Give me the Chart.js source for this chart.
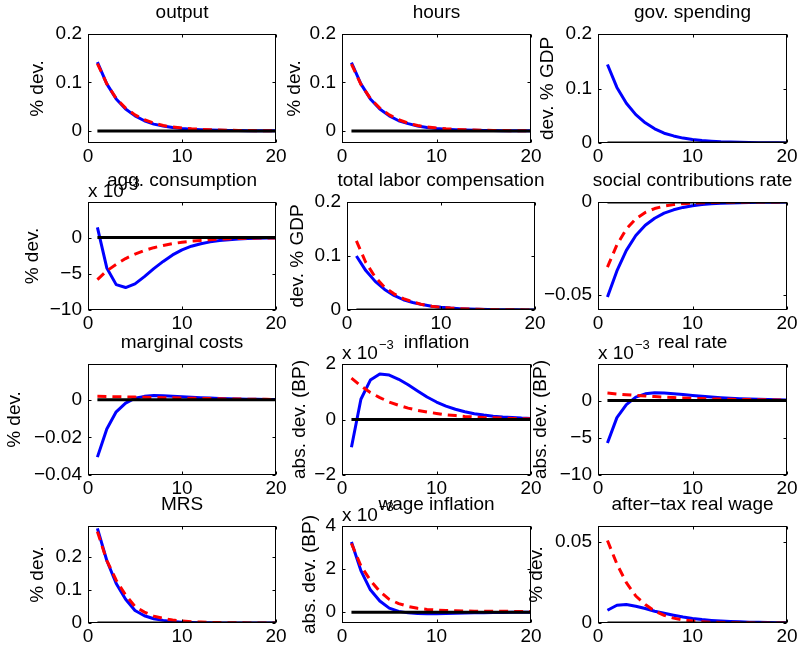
<!DOCTYPE html>
<html><head><meta charset="utf-8">
<script src="https://cdn.jsdelivr.net/npm/chart.js@4.4.0/dist/chart.umd.min.js"></script>
<style>
body{margin:0;background:#fff;width:800px;height:653px;overflow:hidden;position:relative}
canvas{position:absolute}
</style></head><body>
<script>
// ---------- data ----------
const steps = [1,2,3,4,5,6,7,8,9,10,11,12,13,14,15,16,17,18,19,20];
const zero  = [0,0,0,0,0,0,0,0,0,0,0,0,0,0,0,0,0,0,0,0];
const xTickVals = [0,10,20];

const outputBlue = [0.142,0.097,0.066,0.045,0.031,0.021,0.014,0.010,0.007,0.005,0.0035,0.0025,0.0018,0.0013,0.0009,0.0006,0.0004,0.0003,0.0002,0.0001];
const outputRed  = [0.139,0.097,0.067,0.047,0.033,0.023,0.016,0.011,0.008,0.006,0.0043,0.0032,0.0024,0.0018,0.0013,0.0010,0.0007,0.0005,0.0004,0.0003];
const hoursBlue  = [0.141,0.097,0.066,0.045,0.031,0.021,0.015,0.010,0.007,0.005,0.0035,0.0025,0.0018,0.0013,0.0009,0.0006,0.0004,0.0003,0.0002,0.0001];
const hoursRed   = [0.138,0.096,0.067,0.047,0.033,0.023,0.016,0.011,0.008,0.006,0.0043,0.0032,0.0024,0.0018,0.0013,0.0010,0.0007,0.0005,0.0004,0.0003];
const govBlue    = [0.144,0.102,0.073,0.052,0.037,0.026,0.018,0.013,0.009,0.0065,0.0046,0.0033,0.0023,0.0017,0.0012,0.0008,0.0006,0.0004,0.0003,0.0002];
// x 10^-3
const consBlue   = [1.4,-4.2,-6.5,-6.9,-6.4,-5.4,-4.3,-3.3,-2.4,-1.7,-1.2,-0.85,-0.6,-0.42,-0.3,-0.21,-0.15,-0.1,-0.07,-0.05];
const consRed    = [-5.8,-4.6,-3.7,-2.9,-2.3,-1.8,-1.4,-1.1,-0.85,-0.65,-0.5,-0.4,-0.3,-0.22,-0.17,-0.13,-0.1,-0.08,-0.06,-0.05];
const laborBlue  = [0.100,0.073,0.053,0.038,0.027,0.019,0.014,0.010,0.007,0.005,0.0035,0.0025,0.0018,0.0013,0.0009,0.0006,0.0004,0.0003,0.0002,0.0001];
const laborRed   = [0.128,0.088,0.061,0.042,0.030,0.021,0.015,0.010,0.007,0.005,0.0035,0.0025,0.0018,0.0013,0.0009,0.0006,0.0004,0.0003,0.0002,0.0001];
const socialBlue = [-0.051,-0.037,-0.026,-0.018,-0.0125,-0.0087,-0.006,-0.0042,-0.0029,-0.002,-0.0014,-0.001,-0.0007,-0.0005,-0.00035,-0.00025,-0.00017,-0.00012,-0.00008,-0.00005];
const socialRed  = [-0.035,-0.023,-0.0145,-0.009,-0.0056,-0.0035,-0.0022,-0.0014,-0.0009,-0.0006,-0.0004,-0.00025,-0.00016,-0.0001,-0.00007,-0.00005,-0.00003,-0.00002,-0.00001,-0.00001];
const mcBlue     = [-0.0305,-0.0155,-0.0064,-0.0018,0.0008,0.0018,0.0022,0.0021,0.0019,0.0016,0.0013,0.0011,0.0009,0.0007,0.0005,0.0004,0.0003,0.0002,0.00015,0.0001];
const mcRed      = [0.0018,0.0017,0.0016,0.0015,0.0014,0.0013,0.0012,0.0011,0.0010,0.0009,0.0008,0.0007,0.0006,0.0005,0.0004,0.00035,0.0003,0.00025,0.0002,0.00015];
// x 10^-3
const inflBlue   = [-1.0,0.73,1.42,1.64,1.6,1.45,1.25,1.03,0.81,0.63,0.48,0.37,0.28,0.21,0.16,0.12,0.09,0.07,0.05,0.04];
const inflRed    = [1.49,1.21,0.97,0.79,0.63,0.51,0.41,0.33,0.27,0.22,0.17,0.14,0.11,0.09,0.07,0.06,0.05,0.04,0.03,0.025];
// x 10^-3
const rrBlue     = [-5.7,-2.3,-0.55,0.45,0.9,1.05,1.0,0.9,0.8,0.68,0.57,0.47,0.38,0.31,0.25,0.2,0.16,0.13,0.1,0.08];
const rrRed      = [1.0,0.88,0.78,0.69,0.6,0.53,0.46,0.4,0.35,0.3,0.26,0.22,0.19,0.16,0.14,0.12,0.1,0.085,0.07,0.06];
const mrsBlue    = [0.288,0.19,0.12,0.072,0.038,0.022,0.013,0.008,0.0045,0.0025,0.0014,0.0008,0.0005,0.0003,0.0002,0.0001,0.0001,0,0,0];
const mrsRed     = [0.278,0.19,0.13,0.085,0.05,0.033,0.021,0.014,0.009,0.006,0.004,0.0027,0.0018,0.0012,0.0008,0.0005,0.0003,0.0002,0.0001,0.0001];
// x 10^-3
const wageBlue   = [3.26,1.93,1.04,0.52,0.19,0.04,-0.03,-0.06,-0.07,-0.07,-0.06,-0.05,-0.04,-0.03,-0.02,-0.015,-0.01,-0.005,0,0];
const wageRed    = [3.19,2.15,1.48,0.96,0.6,0.4,0.27,0.18,0.13,0.1,0.08,0.07,0.06,0.05,0.05,0.04,0.04,0.04,0.03,0.03];
const atwBlue    = [0.0079,0.011,0.0115,0.0104,0.009,0.0073,0.006,0.0048,0.0037,0.0028,0.0021,0.0016,0.0012,0.0009,0.0007,0.0005,0.0004,0.0003,0.0002,0.00015];
const atwRed     = [0.051,0.0365,0.025,0.0167,0.0115,0.0073,0.0047,0.003,0.0019,0.0012,0.0008,0.0005,0.0003,0.0002,0.00013,0.00008,0.00005,0.00003,0.00002,0.00001];

// y tick lists
const ticks2 = [0,0.1,0.2];
const ticksOut = [0,0.1,0.2];
const ticksCons = [-10,-5,0];
const ticksSocial = [-0.05,0];
const ticksMc = [-0.04,-0.02,0];
const ticksInfl = [-2,0,2];
const ticksRr = [-10,-5,0];
const ticksMrs = [0,0.1,0.2];
const ticksWage = [0,2,4];
const ticksAtw = [0,0.05];

// ---------- layout ----------
const FONT = '"Liberation Sans", Arial, Helvetica, sans-serif';
const panels = [
 {title:'output', ylabel:'% dev.', ylx:38, rect:[88,34,276,143], ymin:-0.025, ymax:0.2, yticks:ticksOut, blue:outputBlue, red:outputRed},
 {title:'hours', ylabel:'% dev.', ylx:295, rect:[342,34,531,143], ymin:-0.025, ymax:0.2, yticks:ticksOut, blue:hoursBlue, red:hoursRed},
 {title:'gov. spending', ylabel:'dev. % GDP', ylx:548, rect:[598,34,787,143], ymin:0, ymax:0.2, yticks:ticks2, blue:govBlue, red:null},
 {title:'agg. consumption', ylabel:'% dev.', ylx:33, rect:[88,202,276,310], ymin:-10, ymax:4.9, yticks:ticksCons, blue:consBlue, red:consRed, exp:true},
 {title:'total labor compensation', ylabel:'dev. % GDP', ylx:298, rect:[347,202,535,310], ymin:0, ymax:0.2, yticks:ticks2, blue:laborBlue, red:laborRed},
 {title:'social contributions rate', ylabel:null, ylx:0, rect:[598,202,787,310], ymin:-0.058, ymax:0, yticks:ticksSocial, blue:socialBlue, red:socialRed},
 {title:'marginal costs', ylabel:'% dev.', ylx:15, rect:[88,364,276,475], ymin:-0.04, ymax:0.019, yticks:ticksMc, blue:mcBlue, red:mcRed},
 {title:'inflation', ylabel:'abs. dev. (BP)', ylx:300, rect:[342,364,531,475], ymin:-2, ymax:2, yticks:ticksInfl, blue:inflBlue, red:inflRed, exp:true},
 {title:'real rate', ylabel:'abs. dev. (BP)', ylx:541, rect:[598,364,787,475], ymin:-10, ymax:4.9, yticks:ticksRr, blue:rrBlue, red:rrRed, exp:true},
 {title:'MRS', ylabel:'% dev.', ylx:38, rect:[88,526,276,623], ymin:0, ymax:0.295, yticks:ticksMrs, blue:mrsBlue, red:mrsRed},
 {title:'wage inflation', ylabel:'abs. dev. (BP)', ylx:310, rect:[342,526,531,623], ymin:-0.5, ymax:4, yticks:ticksWage, blue:wageBlue, red:wageRed, exp:true},
 {title:'after\u2212tax real wage', ylabel:'% dev.', ylx:537, rect:[598,526,787,623], ymin:0, ymax:0.06, yticks:ticksAtw, blue:atwBlue, red:atwRed}
];

const LM=90, TM=36, BM=30, RM=22;

function fmt(v){
  if (Math.abs(v) < 1e-12) return '0';
  return String(Math.round(v*1e6)/1e6).replace('-', '\u2212');
}

const decor = {
  id:'decor',
  afterDraw(chart){
    const p = chart.options.plugins.decor;
    const ctx = chart.ctx, a = chart.chartArea;
    ctx.save();
    ctx.strokeStyle = '#000'; ctx.lineWidth = 1;
    const L = Math.round(a.left)+0.5, T = Math.round(a.top)+0.5, R = Math.round(a.right)-0.5, B = Math.round(a.bottom)-0.5;
    ctx.strokeRect(L, T, R-L, B-T);
    const xs = chart.scales.x, ys = chart.scales.y;
    ctx.beginPath();
    xs.ticks.forEach(t => { const px = Math.round(xs.getPixelForValue(t.value))+0.5;
      ctx.moveTo(px,B); ctx.lineTo(px,B-3); ctx.moveTo(px,T); ctx.lineTo(px,T+3); });
    ys.ticks.forEach(t => { const py = Math.round(ys.getPixelForValue(t.value))+0.5;
      ctx.moveTo(L,py); ctx.lineTo(L+3,py); ctx.moveTo(R,py); ctx.lineTo(R-3,py); });
    ctx.stroke();
    ctx.fillStyle = '#000';
    // exponent label
    if (p.exp) {
      ctx.font = '19px ' + FONT; ctx.textAlign = 'left'; ctx.textBaseline = 'alphabetic';
      const s = 'x 10'; ctx.fillText(s, a.left, a.top - 5);
      const w = ctx.measureText(s).width;
      ctx.font = '13px ' + FONT; ctx.fillText('\u22123', a.left + w + 1, a.top - 15);
    }
    // title
    ctx.font = '19px ' + FONT; ctx.textAlign = 'center'; ctx.textBaseline = 'middle';
    ctx.fillText(p.title, (a.left+a.right)/2, a.top - 21);
    // y label
    if (p.ylabel) {
      ctx.translate(p.ylx, (a.top+a.bottom)/2);
      ctx.rotate(-Math.PI/2);
      ctx.textAlign = 'center'; ctx.textBaseline = 'middle';
      ctx.fillText(p.ylabel, 0, 0);
    }
    ctx.restore();
  }
};

function pts(arr){ return steps.map((s,i)=>({x:s, y:arr[i]})); }

panels.forEach(p => {
  const [l,t,r,b] = p.rect;
  const cv = document.createElement('canvas');
  const W = LM + (r-l) + RM, H = TM + (b-t) + BM;
  const cl = l - LM, ct = t - TM;
  cv.width = W; cv.height = H;
  cv.style.left = cl + 'px'; cv.style.top = ct + 'px';
  cv.style.width = W + 'px'; cv.style.height = H + 'px';
  document.body.appendChild(cv);
  const ds = [{data: pts(zero), borderColor:'#000', borderWidth:3}];
  if (p.red) ds.push({data: pts(p.red), borderColor:'#ff0000', borderWidth:3, borderDash:[9,6], borderCapStyle:'butt'});
  ds.push({data: pts(p.blue), borderColor:'#0000ff', borderWidth:3});
  ds.forEach(d => { d.pointRadius = 0; d.tension = 0; d.fill = false; d.borderJoinStyle = 'round'; });
  new Chart(cv, {
    type:'line',
    data:{datasets: ds},
    options:{
      responsive:false, animation:false, devicePixelRatio:1,
      layout:{padding:{top:TM, right:RM, left:0, bottom:0}},
      plugins:{legend:{display:false}, tooltip:{enabled:false},
        decor:{title:p.title, ylabel:p.ylabel, ylx:p.ylx - cl, exp:!!p.exp}},
      scales:{
        x:{type:'linear', min:0, max:20,
           grid:{display:false, drawTicks:false}, border:{display:false},
           afterBuildTicks: s => { s.ticks = xTickVals.map(v=>({value:v})); },
           afterFit: s => { s.height = BM; },
           ticks:{autoSkip:false, maxRotation:0, padding:2, color:'#000', font:{family:FONT, size:19}, callback: v => fmt(v)}},
        y:{type:'linear', min:p.ymin, max:p.ymax,
           grid:{display:false, drawTicks:false}, border:{display:false},
           afterBuildTicks: s => { s.ticks = p.yticks.map(v=>({value:v})); },
           afterFit: s => { s.width = LM; },
           ticks:{autoSkip:false, padding:6, color:'#000', font:{family:FONT, size:19}, callback: v => fmt(v)}}
      }
    },
    plugins:[decor]
  });
});
</script>
</body></html>
